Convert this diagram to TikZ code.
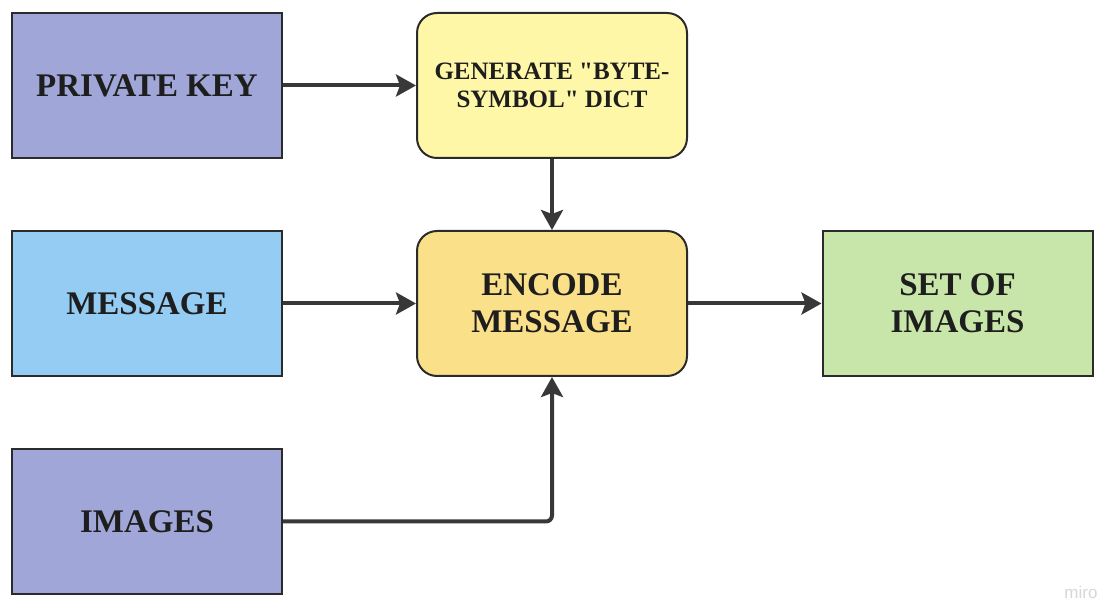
\documentclass[tikz,border=0pt]{standalone}
\usepackage{fontspec}
\setmainfont{Liberation Serif}[Ligatures=TeXOff]
\setsansfont{Liberation Sans}
\usetikzlibrary{positioning, arrows.meta, shapes}

\definecolor{keyfill}{HTML}{A0A6D8}
\definecolor{msgfill}{HTML}{94CCF3}
\definecolor{dictfill}{HTML}{FFF7A8}
\definecolor{encfill}{HTML}{FBE08A}
\definecolor{outfill}{HTML}{C8E6A9}
\definecolor{boxline}{HTML}{2B2B2B}
\definecolor{arrowgray}{HTML}{383838}
\definecolor{txtcol}{HTML}{1E1E1E}
\definecolor{wmgray}{HTML}{D6D6D6}

\begin{document}
\begin{tikzpicture}[
    % GLOBAL CFG
    x=1pt, y=-1pt,
    >={Stealth[length=20pt, width=22pt, inset=4pt]},
    % Styles
    block/.style={% For the plain input/output boxes
        rectangle,
        draw=boxline,
        line width=2pt,
        minimum width=270pt,
        minimum height=145pt,
        align=center,
        text=txtcol,
        inner sep=2pt,
        },
    proc/.style={% For the rounded process boxes
        block,
        rounded corners=20pt,
        },
    bigtext/.style={% large labels
        font=\bfseries\fontsize{33}{37}\selectfont
        },
    smalltext/.style={% the dict label
        font=\bfseries\fontsize{25}{28}\selectfont
        },
    ArrowC1/.style={% Straight arrows
        line width=4pt,
        draw=arrowgray,
        },
    ArrowC2/.style={% Arrows with rounded corners
        line width=4pt,
        draw=arrowgray,
        rounded corners=6pt,
        },
    ]

    \useasboundingbox (0,0) rectangle (1104,601);

    % Draw the inputs
    \node [block, bigtext, fill=keyfill] (key) at (147,85.5) {PRIVATE KEY};
    \node [block, bigtext, fill=msgfill] (msg) at (147,303.5) {MESSAGE};
    \node [block, bigtext, fill=keyfill] (imgs) at (147,521.5) {IMAGES};

    % Draw the process steps
    \node [proc, smalltext, fill=dictfill] (dict) at (552,85.5) {GENERATE "BYTE-\\SYMBOL" DICT};
    \node [proc, bigtext, fill=encfill] (enc) at (552,303.5) {ENCODE\\MESSAGE};

    % Draw the output
    \node [block, bigtext, fill=outfill] (out) at (957.5,303.5) {SET OF\\IMAGES};

    % Watermark
    \node [anchor=base, text=wmgray, font=\sffamily\fontsize{17}{17}\selectfont] (wm) at (1081,598) {miro};

% Start connecting all.
    \draw [->, ArrowC1] (key) -- (dict);
    \draw [->, ArrowC1] (dict) -- (enc);
    \draw [->, ArrowC1] (msg) -- (enc);
    \draw [->, ArrowC1] (enc) -- (out);
    \draw [->, ArrowC2] (imgs) -| (enc);

\end{tikzpicture}
\end{document}
